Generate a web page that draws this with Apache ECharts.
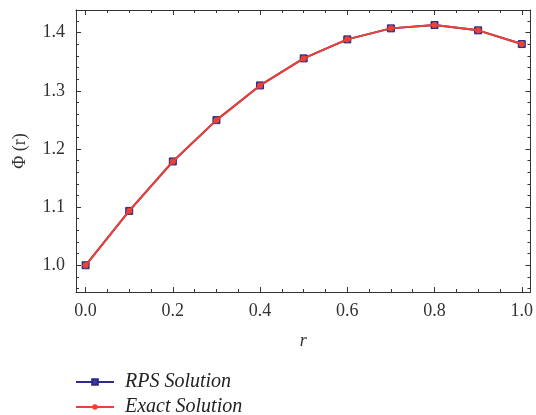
<!DOCTYPE html>
<html>
<head>
<meta charset="utf-8">
<script src="https://cdn.jsdelivr.net/npm/echarts@6/dist/echarts.min.js"></script>
<style>
html,body{margin:0;padding:0;background:#fff;}
#chart{width:536px;height:415px;}
</style>
</head>
<body>
<div id="chart"></div>
<script>
// Data
const rValues = [0.0, 0.1, 0.2, 0.3, 0.4, 0.5, 0.6, 0.7, 0.8, 0.9, 1.0];
const rpsSolution = [1.000, 1.0935, 1.1785, 1.2496, 1.3093, 1.3558, 1.3885, 1.4074, 1.4131, 1.4040, 1.3804];
const exactSolution = [1.000, 1.0935, 1.1785, 1.2496, 1.3093, 1.3558, 1.3885, 1.4074, 1.4131, 1.4040, 1.3804];
const xMajorTicks = [0.0, 0.2, 0.4, 0.6, 0.8, 1.0];
const xMinorTicks = [0.05, 0.1, 0.15, 0.25, 0.3, 0.35, 0.45, 0.5, 0.55, 0.65, 0.7, 0.75, 0.85, 0.9, 0.95];
const yMajorTicks = [1.0, 1.1, 1.2, 1.3, 1.4];
const yMinorTicks = [0.96, 0.98, 1.02, 1.04, 1.06, 1.08, 1.12, 1.14, 1.16, 1.18, 1.22, 1.24, 1.26, 1.28, 1.32, 1.34, 1.36, 1.38, 1.42];

const X_MIN = -0.022, X_MAX = 1.02;
const Y_MIN = 0.954, Y_MAX = 1.439;
const FONT = '"Liberation Serif", "Times New Roman", serif';
const AX = '#333';

function xAxisDef(pos, major, isMain) {
  return {
    type: 'value', position: pos, min: X_MIN, max: X_MAX,
    splitLine: {show: false},
    axisLine: {show: isMain, onZero: false, lineStyle: {color: AX, width: 1}},
    axisTick: {show: true, inside: true, length: major ? 5 : 3, customValues: major ? xMajorTicks : xMinorTicks, lineStyle: {color: AX, width: 1}},
    axisLabel: (isMain && pos === 'bottom') ? {
      show: true, customValues: xMajorTicks, margin: 10, color: '#333',
      fontFamily: FONT, fontSize: 18,
      formatter: v => v.toFixed(1)
    } : {show: false},
    name: (isMain && pos === 'bottom') ? 'r' : '',
    nameLocation: 'middle', nameGap: 40,
    nameTextStyle: {fontFamily: FONT, fontStyle: 'italic', fontSize: 18, color: '#333'}
  };
}
function yAxisDef(pos, major, isMain) {
  return {
    type: 'value', position: pos, min: Y_MIN, max: Y_MAX,
    splitLine: {show: false},
    axisLine: {show: isMain, onZero: false, lineStyle: {color: AX, width: 1}},
    axisTick: {show: true, inside: true, length: major ? 5 : 3, customValues: major ? yMajorTicks : yMinorTicks, lineStyle: {color: AX, width: 1}},
    axisLabel: (isMain && pos === 'left') ? {
      show: true, customValues: yMajorTicks, margin: 11, color: '#333',
      fontFamily: FONT, fontSize: 18,
      formatter: v => v.toFixed(1)
    } : {show: false},
    name: (isMain && pos === 'left') ? 'Φ (r)' : '',
    nameLocation: 'middle', nameGap: 47,
    nameTextStyle: {fontFamily: FONT, fontSize: 18, color: '#333'}
  };
}

const legendText = {fontFamily: FONT, fontStyle: 'italic', fontSize: 20, color: '#222', padding: [0, 0, 0, 6]};

const chart = echarts.init(document.getElementById('chart'), null, {renderer: 'canvas'});
chart.setOption({
  animation: false,
  backgroundColor: '#fff',
  grid: {left: 76, top: 10, right: 4, bottom: 123, containLabel: false},
  xAxis: [xAxisDef('bottom', true, true), xAxisDef('bottom', false, false), xAxisDef('top', true, true), xAxisDef('top', false, false)],
  yAxis: [yAxisDef('left', true, true), yAxisDef('left', false, false), yAxisDef('right', true, true), yAxisDef('right', false, false)],
  legend: [
    {left: 70, top: 367, itemWidth: 38, itemHeight: 7, textStyle: legendText, data: ['RPS Solution']},
    {left: 70, top: 392, itemWidth: 38, itemHeight: 7, textStyle: legendText, data: ['Exact Solution']}
  ],
  series: [
    {
      name: 'RPS Solution', type: 'line',
      data: rValues.map((r, i) => [r, rpsSolution[i]]),
      symbol: 'rect', symbolSize: 7,
      lineStyle: {color: '#2e2d8f', width: 2},
      itemStyle: {color: '#3d3ca6', borderColor: '#2a2980', borderWidth: 1},
      z: 2
    },
    {
      name: 'Exact Solution', type: 'line',
      data: rValues.map((r, i) => [r, exactSolution[i]]),
      symbol: 'circle', symbolSize: 6,
      lineStyle: {color: '#ef4130', width: 2},
      itemStyle: {color: '#ef4130'},
      z: 3
    }
  ]
});
</script>
</body>
</html>
